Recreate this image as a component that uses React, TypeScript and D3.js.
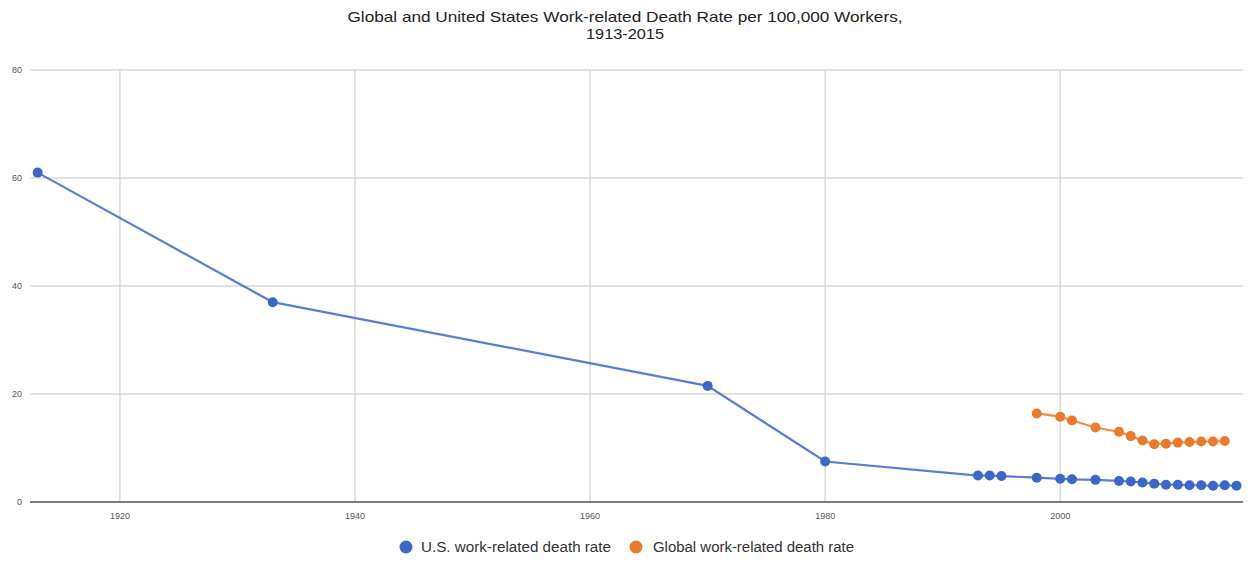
import React from "react";
import * as d3 from "d3";

const usYears = [1913, 1933, 1970, 1980, 1993, 1994, 1995, 1998, 2000, 2001, 2003, 2005, 2006, 2007, 2008, 2009, 2010, 2011, 2012, 2013, 2014, 2015];
const usRates = [61, 37, 21.5, 7.5, 4.9, 4.9, 4.8, 4.5, 4.3, 4.2, 4.1, 3.9, 3.8, 3.6, 3.4, 3.2, 3.2, 3.1, 3.1, 3.0, 3.1, 3.0];
const globalYears = [1998, 2000, 2001, 2003, 2005, 2006, 2007, 2008, 2009, 2010, 2011, 2012, 2013, 2014];
const globalRates = [16.4, 15.8, 15.1, 13.8, 13.0, 12.2, 11.4, 10.7, 10.8, 11.0, 11.1, 11.2, 11.2, 11.3];
const xTicks = [1920, 1940, 1960, 1980, 2000];
const yTicks = [0, 20, 40, 60, 80];
const titleLines = ["Global and United States Work-related Death Rate per 100,000 Workers,", "1913-2015"];
const seriesNames = ["U.S. work-related death rate", "Global work-related death rate"];

const BLUE = "#3a67c8";
const ORANGE = "#ec7a2c";
const FONT = "'Liberation Sans', Arial, sans-serif";

export default function App() {
  const W = 1256, H = 562;
  const x = d3.scaleLinear().domain([1912.35, 2015.55]).range([30, 1243]);
  const y = d3.scaleLinear().domain([0, 80]).range([502, 70]);
  const line = d3.line<[number, number]>().x(d => x(d[0])).y(d => y(d[1]));
  const us: [number, number][] = usYears.map((yr, i) => [yr, usRates[i]]);
  const gl: [number, number][] = globalYears.map((yr, i) => [yr, globalRates[i]]);
  const series = [
    { data: us, color: BLUE },
    { data: gl, color: ORANGE },
  ];
  const titleLens = [555, 78];
  return (
    <svg width={W} height={H} style={{ position: "absolute", left: 0, top: 0, background: "#fff" }} fontFamily={FONT}>
      <rect width={W} height={H} fill="#fff" />
      {titleLines.map((t, i) => (
        <text key={t} x={625} y={22 + i * 17} textAnchor="middle" fontSize={14.5} fill="#222"
          textLength={titleLens[i]} lengthAdjust="spacingAndGlyphs">{t}</text>
      ))}
      {yTicks.map(t => (
        <g key={t}>
          {t !== 0 && <line x1={30} x2={1243} y1={y(t)} y2={y(t)} stroke="#d9d9d9" strokeWidth={1.5} />}
          <text x={22} y={y(t) + 3} textAnchor="end" fontSize={9} fill="#555">{t}</text>
        </g>
      ))}
      {xTicks.map(t => (
        <g key={t}>
          <line x1={x(t)} x2={x(t)} y1={70} y2={502} stroke="#d9d9d9" strokeWidth={1.5} />
          <text x={x(t)} y={519} textAnchor="middle" fontSize={9} fill="#555">{t}</text>
        </g>
      ))}
      <line x1={30} x2={1243} y1={y(0)} y2={y(0)} stroke="#555" strokeWidth={1.5} />
      {series.map((s, si) => (
        <g key={si}>
          <path d={line(s.data) || ""} fill="none" stroke={s.color} strokeWidth={2.2} strokeOpacity={0.85} />
          {s.data.map((d, i) => (
            <circle key={i} cx={x(d[0])} cy={y(d[1])} r={5} fill={s.color} />
          ))}
        </g>
      ))}
      <circle cx={406} cy={547} r={6.5} fill={BLUE} />
      <text x={421} y={552} fontSize={14} fill="#333" textLength={190} lengthAdjust="spacingAndGlyphs">{seriesNames[0]}</text>
      <circle cx={636} cy={547} r={6.5} fill={ORANGE} />
      <text x={653} y={552} fontSize={14} fill="#333" textLength={201} lengthAdjust="spacingAndGlyphs">{seriesNames[1]}</text>
    </svg>
  );
}
